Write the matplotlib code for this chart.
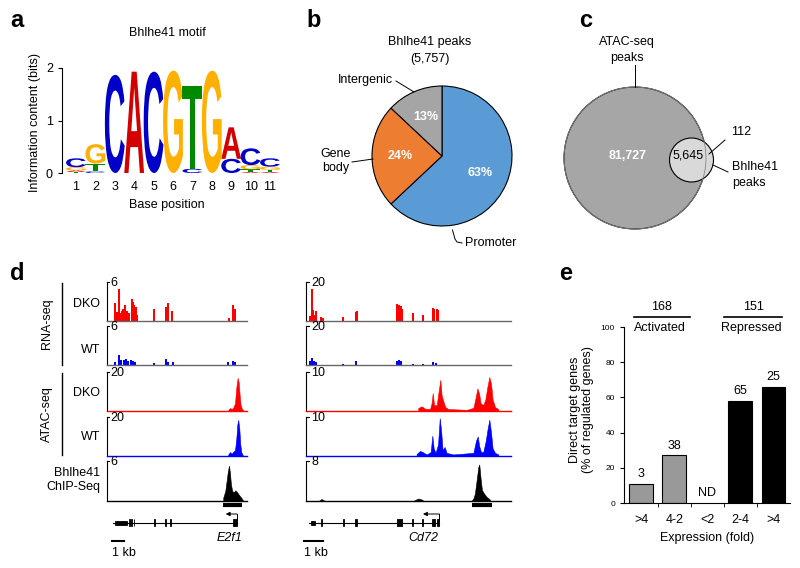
import matplotlib
matplotlib.use("Agg")
import matplotlib.pyplot as plt
from matplotlib.textpath import TextPath
from matplotlib.patches import PathPatch, Circle, Rectangle
from matplotlib.font_manager import FontProperties
from matplotlib.transforms import Affine2D

plt.rcParams["font.family"] = ["Liberation Sans", "DejaVu Sans"]
plt.rcParams["font.size"] = 9
plt.rcParams["axes.linewidth"] = 0.8

# ---- panel a: Bhlhe41 motif, information content (bits) per base
positions = list(range(1, 12))
motif_A = [0.03, 0.00, 0.00, 1.93, 0.00, 0.00, 0.00, 0.00, 0.60, 0.02, 0.02]
motif_C = [0.17, 0.03, 1.87, 0.00, 1.93, 0.00, 0.08, 0.00, 0.27, 0.32, 0.16]
motif_G = [0.06, 0.37, 0.00, 0.00, 0.00, 1.95, 0.00, 1.95, 0.00, 0.08, 0.06]
motif_T = [0.02, 0.15, 0.00, 0.00, 0.00, 0.00, 1.58, 0.00, 0.00, 0.05, 0.04]
base_colors = {"A": "#d40000", "C": "#0000c8", "G": "#ffb000", "T": "#008a00"}

# ---- panel b: peak annotation
pie_labels = ["Promoter", "Gene body", "Intergenic"]
pie_values = [63, 24, 13]
pie_colors = ["#5b9bd5", "#ed7d31", "#a5a5a5"]
total_peaks = 5757

# ---- panel c: overlap ATAC-seq / Bhlhe41 peaks
atac_only = 81727
overlap = 5645
bhlhe41_only = 112

# ---- panel d: genome tracks, (position kb, signal)
e2f1_rna_dko = [(0.67, 2.8), (0.80, 1.4), (0.90, 0.8), (1.03, 5.0), (1.17, 1.2), (1.26, 1.5),
                (1.36, 1.9), (1.50, 2.4), (1.64, 1.6), (1.80, 1.3), (2.06, 3.4), (2.17, 2.9),
                (2.28, 2.4), (2.39, 2.2), (2.50, 1.0), (3.94, 1.9), (4.94, 2.2), (5.06, 2.7),
                (5.44, 1.6), (10.14, 0.5), (10.53, 2.4), (10.67, 1.8)]
e2f1_rna_wt = [(0.67, 0.5), (1.03, 1.5), (1.14, 0.75), (1.42, 0.75), (1.58, 0.9), (1.72, 0.6),
               (2.00, 0.75), (2.14, 0.6), (2.33, 0.4), (3.94, 0.35), (4.89, 0.9), (5.06, 0.4),
               (5.47, 0.4), (10.11, 0.4), (10.53, 0.6), (10.69, 0.5)]
e2f1_atac_dko = [(10.11, 0.5), (10.25, 1.5), (10.39, 1.0), (10.53, 1.8), (10.67, 4.0), (10.78, 12.0),
                 (10.89, 17.0), (10.97, 15.0), (11.06, 8.0), (11.14, 3.0), (11.25, 1.0), (11.36, 0.4)]
e2f1_atac_wt = [(10.11, 0.8), (10.25, 2.0), (10.39, 1.2), (10.53, 2.2), (10.67, 3.0), (10.78, 9.0),
                (10.86, 16.0), (10.94, 18.5), (11.03, 14.0), (11.11, 6.0), (11.19, 2.0), (11.31, 0.6)]
e2f1_chip = [(9.69, 0.5), (9.86, 1.5), (9.97, 3.0), (10.08, 4.5), (10.17, 5.3), (10.25, 4.2),
             (10.33, 2.5), (10.44, 1.5), (10.58, 1.3), (10.69, 1.6), (10.81, 1.4), (10.97, 1.0),
             (11.14, 0.6), (11.31, 0.2)]
cd72_rna_dko = [(0.21, 2.4), (0.32, 16.3), (0.39, 5.6), (0.46, 3.0), (0.53, 5.0), (0.79, 1.9),
                (0.91, 1.5), (1.96, 1.9), (2.63, 4.7), (2.70, 5.0), (4.81, 8.8), (4.88, 8.0),
                (4.95, 7.5), (5.02, 7.5), (5.07, 6.0), (5.61, 4.3), (6.14, 3.2), (6.67, 6.5),
                (6.75, 6.3), (6.88, 6.0), (6.96, 5.5)]
cd72_rna_wt = [(0.21, 1.9), (0.32, 3.7), (0.44, 2.2), (0.53, 1.5), (1.96, 0.6), (2.63, 1.9),
               (4.81, 2.2), (4.90, 2.4), (5.00, 2.0), (5.61, 0.6), (6.14, 0.5), (6.70, 1.3),
               (6.85, 1.2)]
cd72_atac_dko = [(5.91, 0.8), (6.09, 1.2), (6.26, 0.6), (6.53, 0.5), (6.61, 2.0), (6.67, 4.6),
                 (6.74, 1.5), (6.88, 1.5), (6.98, 5.0), (7.07, 8.0), (7.14, 4.0), (7.23, 2.5),
                 (7.33, 1.0), (7.49, 0.5), (8.46, 0.3), (8.81, 0.8), (8.93, 3.5), (9.02, 5.8),
                 (9.11, 4.5), (9.19, 2.0), (9.33, 1.5), (9.44, 3.0), (9.54, 6.0), (9.65, 8.7),
                 (9.74, 7.0), (9.82, 3.0), (9.95, 1.0), (10.12, 0.5)]
cd72_atac_wt = [(5.82, 0.5), (6.00, 1.3), (6.14, 1.0), (6.35, 0.4), (6.56, 1.0), (6.65, 5.2),
                (6.72, 2.0), (6.82, 0.8), (6.95, 3.0), (7.04, 9.7), (7.12, 6.0), (7.19, 1.5),
                (7.30, 2.3), (7.40, 0.8), (7.75, 0.4), (8.81, 0.8), (8.95, 4.0), (9.04, 5.0),
                (9.12, 2.5), (9.21, 1.0), (9.33, 1.0), (9.46, 3.9), (9.56, 7.0), (9.65, 9.3),
                (9.74, 6.0), (9.82, 2.0), (9.95, 0.8), (10.12, 0.4)]
cd72_chip = [(0.66, 0.0), (0.74, 0.2), (0.82, 0.4), (0.91, 0.2), (1.00, 0.0), (5.65, 0.0),
             (5.74, 0.2), (5.91, 0.5), (6.09, 0.3), (6.20, 0.0), (8.70, 0.0),
             (8.81, 0.5), (8.89, 1.5), (8.98, 4.1), (9.07, 6.8), (9.12, 7.3), (9.19, 4.5),
             (9.26, 2.2), (9.37, 1.5), (9.51, 0.8), (9.68, 0.3)]
track_scales = {"E2f1": [6, 6, 20, 20, 6], "Cd72": [20, 20, 10, 10, 8]}
e2f1_exons = [(0.67, 1.67), (1.84, 1.90), (2.04, 2.10), (2.22, 2.28), (3.91, 3.97),
              (4.86, 4.92), (5.28, 5.34), (10.50, 10.83)]
cd72_exons = [(0.25, 0.47), (0.79, 0.86), (1.93, 1.99), (2.59, 2.67), (4.77, 5.03),
              (5.57, 5.63), (6.09, 6.15), (6.64, 6.80), (6.88, 7.02)]
e2f1_gene = (0.5, 10.83)
cd72_gene = (0.16, 7.02)
e2f1_peak = (9.67, 11.25)
cd72_peak = (8.72, 9.77)

# ---- panel e: direct targets
fold_labels = [">4", "4-2", "<2", "2-4", ">4"]
pct_direct = [11, 27, 0, 58, 66]
n_direct = ["3", "38", "ND", "65", "25"]
group_names = ["Activated", "Repressed"]
group_totals = [168, 151]

W, H = 800, 568
fig = plt.figure(figsize=(8, 5.68), dpi=100)


def box(x0, y0, x1, y1):
    return fig.add_axes([x0 / W, 1 - y1 / H, (x1 - x0) / W, (y1 - y0) / H])


ov = fig.add_axes([0, 0, 1, 1], zorder=10)
ov.set_xlim(0, W)
ov.set_ylim(H, 0)
ov.axis("off")
ov.patch.set_alpha(0)

for letter, x, y in [("a", 10, 27), ("b", 306, 27), ("c", 579, 27), ("d", 10, 280), ("e", 559, 280)]:
    ov.text(x, y, letter, fontsize=17, fontweight="bold", va="baseline")

# ---- a
ax = box(62, 68, 282, 173)
fp = FontProperties(family="Liberation Sans", weight="bold")
motif = {"A": motif_A, "C": motif_C, "G": motif_G, "T": motif_T}
for i, p in enumerate(positions):
    stack = sorted([(motif[b][i], b) for b in "ACGT" if motif[b][i] > 0])
    y = 0
    for h, b in stack:
        tp = TextPath((0, 0), b, size=1, prop=fp)
        bb = tp.get_extents()
        tr = (Affine2D().translate(-bb.x0, -bb.y0)
              .scale(1.02 / bb.width, h / bb.height).translate(p - 0.51, y))
        ax.add_patch(PathPatch(tr.transform_path(tp), fc=base_colors[b], ec="none"))
        y += h
ax.set_xlim(0.28, 11.62)
ax.set_ylim(0, 2)
ax.set_yticks([0, 1, 2])
ax.set_xticks(positions)
for s in ["top", "right", "bottom"]:
    ax.spines[s].set_visible(False)
ax.tick_params(axis="x", length=0, pad=6)
ax.tick_params(axis="y", length=3)
ov.text(167, 33, "Bhlhe41 motif", ha="center", va="center")
ov.text(35, 122, "Information content (bits)", rotation=90, ha="center", va="center")
ov.text(167, 205, "Base position", ha="center", va="center")

# ---- b
pax = box(370, 84, 514, 228)
pax.pie(pie_values, colors=pie_colors, startangle=90, counterclock=False,
        wedgeprops=dict(edgecolor="black", linewidth=0.8),
        autopct=lambda v: f"{v:.0f}%", pctdistance=0.6,
        textprops=dict(color="white", fontweight="bold", fontsize=9))
pax.set_xlim(-72 / 70, 72 / 70)
pax.set_ylim(-72 / 70, 72 / 70)
pax.set_aspect("equal")
ov.text(430, 42, "Bhlhe41 peaks", ha="center", va="center")
ov.text(430, 59, f"({total_peaks:,})", ha="center", va="center")
ov.text(393, 80, pie_labels[2], ha="right", va="center")
ov.plot([396, 414], [81, 92], color="black", lw=0.7)
ov.text(336, 154, "Gene", ha="center", va="center")
ov.text(336, 168, "body", ha="center", va="center")
ov.plot([352, 373], [162, 159], color="black", lw=0.7)
ov.plot([452.5, 455, 457, 462], [230, 239, 242, 243], color="black", lw=0.7)
ov.text(465, 243, pie_labels[0], ha="left", va="center")

# ---- c
ov.add_patch(Circle((635, 158), 71, fc="#a6a6a6", ec="black", lw=0.8))
ov.add_patch(Circle((691.5, 160), 22, fc="#d9d9d9", ec="black", lw=0.8))
ov.add_patch(Circle((635, 158), 71, fc="none", ec="#888888", lw=0.6))
ov.text(628, 156, f"{atac_only:,}", color="white", fontweight="bold", ha="center", va="center")
ov.text(688, 156, f"{overlap:,}", ha="center", va="center")
ov.text(627, 42, "ATAC-seq", ha="center", va="center")
ov.text(627, 58, "peaks", ha="center", va="center")
ov.plot([635, 635], [65, 87], color="black", lw=0.7)
ov.text(731, 132, f"{bhlhe41_only}", ha="left", va="center")
ov.plot([725, 709], [140, 154], color="black", lw=0.7)
ov.text(732, 167, "Bhlhe41", ha="left", va="center")
ov.text(732, 183, "peaks", ha="left", va="center")
ov.plot([728, 713], [172, 165], color="black", lw=0.7)

# ---- d
rows = [(282, 321), (326, 365), (372, 411), (417, 456), (461, 501)]
loci = [
    ("E2f1", (107, 247), 11.67, [e2f1_rna_dko, e2f1_rna_wt, e2f1_atac_dko, e2f1_atac_wt, e2f1_chip],
     e2f1_exons, e2f1_gene, e2f1_peak, 0.42, 10.25, 0.16),
    ("Cd72", (306, 511), 10.79, [cd72_rna_dko, cd72_rna_wt, cd72_atac_dko, cd72_atac_wt, cd72_chip],
     cd72_exons, cd72_gene, cd72_peak, -0.1, 6.2, 0.11),
]
track_colors = ["#ff0000", "#0000ff", "#ff0000", "#0000ff", "black"]
for name, (x0, x1), xmax, tracks, exons, gene, peak, sb, name_x, bw in loci:
    for k, ((y0, y1), data) in enumerate(zip(rows, tracks)):
        t = box(x0, y0, x1, y1)
        xs = [d[0] for d in data]
        ys = [d[1] for d in data]
        c = track_colors[k]
        if k < 2:
            t.bar(xs, ys, width=bw, color=c, linewidth=0)
            t.spines["bottom"].set_color("#666666")
        else:
            t.fill_between(xs, ys, 0, color=c, linewidth=0.4, edgecolor=c)
            t.spines["bottom"].set_color(c)
        t.spines["bottom"].set_linewidth(1.0)
        t.set_xlim(0, xmax)
        t.set_ylim(0, track_scales[name][k])
        t.set_xticks([])
        t.set_yticks([])
        for s in ["top", "right"]:
            t.spines[s].set_visible(False)
        t.plot([0, 0.015], [1, 1], transform=t.transAxes, color="black", lw=0.8, clip_on=False)
        t.text(0.025, 0.98, str(track_scales[name][k]), transform=t.transAxes, ha="left", va="center")

    g = box(x0, 500, x1, 562)
    g.set_xlim(0, xmax)
    g.set_ylim(562, 500)
    g.axis("off")
    g.plot(peak, [505, 505], color="black", lw=3, solid_capstyle="butt")
    g.plot([gene[1], gene[1]], [520, 514], color="black", lw=0.7)
    g.annotate("", xy=(gene[1] - 0.08 * xmax, 514), xytext=(gene[1], 514),
               arrowprops=dict(arrowstyle="-|>", color="black", lw=0.7, mutation_scale=6,
                               shrinkA=0, shrinkB=0))
    g.plot(gene, [522.5, 522.5], color="black", lw=0.8)
    for j, (e0, e1) in enumerate(exons):
        hgt = 4 if j == 0 else 7
        g.add_patch(Rectangle((e0, 522.5 - hgt / 2), e1 - e0, hgt, fc="black", ec="black", lw=0.6))
    g.text(name_x, 538, name, style="italic", ha="center", va="center")
    g.plot([sb, sb + 1], [541, 541], color="black", lw=1.5, clip_on=False)
    g.text(sb, 553, "1 kb", ha="left", va="center", clip_on=False)

ov.text(47, 324, "RNA-seq", rotation=90, ha="center", va="center")
ov.plot([62, 62], [283, 365], color="black", lw=1.0)
ov.text(47, 414, "ATAC-seq", rotation=90, ha="center", va="center")
ov.plot([62, 62], [373, 455], color="black", lw=1.0)
for lab, y in [("DKO", 304), ("WT", 350), ("DKO", 393), ("WT", 437), ("Bhlhe41", 473), ("ChIP-Seq", 487)]:
    ov.text(100, y, lab, ha="right", va="center")

# ---- e
eax = box(624, 327, 790, 503)
xpos = list(range(len(fold_labels)))
bar_cols = ["#999999", "#999999", "#999999", "black", "black"]
for x, v, c in zip(xpos, pct_direct, bar_cols):
    if v > 0:
        eax.bar(x, v, width=0.72, color=c, edgecolor="black", linewidth=0.8)
for x, v, lab in zip(xpos, pct_direct, n_direct):
    eax.text(x, v + 2, lab, ha="center", va="bottom")
eax.set_xlim(-0.52, 4.5)
eax.set_ylim(0, 100)
eax.set_yticks(range(0, 101, 20))
eax.tick_params(axis="y", labelsize=6, length=3)
eax.set_xticks(xpos)
eax.set_xticklabels(fold_labels)
eax.set_xticks([0.5, 1.5, 2.5, 3.5], minor=True)
eax.tick_params(axis="x", which="major", length=0, pad=8)
eax.tick_params(axis="x", which="minor", length=3)
for s in ["top", "right"]:
    eax.spines[s].set_visible(False)
for (xa, xb), nm, tot in zip([(634, 690), (724, 782)], group_names, group_totals):
    ov.plot([xa, xb], [317, 317], color="black", lw=1.2)
    ov.text((xa + xb) / 2, 307, str(tot), ha="center", va="center")
    ov.text((xa + xb) / 2 - 2, 328, nm, ha="center", va="center")
ov.text(575, 410, "Direct target genes", rotation=90, ha="center", va="center")
ov.text(588, 410, "(% of regulated genes)", rotation=90, ha="center", va="center")
ov.text(707, 538, "Expression (fold)", ha="center", va="center")

fig.savefig("out.png", dpi=100)
